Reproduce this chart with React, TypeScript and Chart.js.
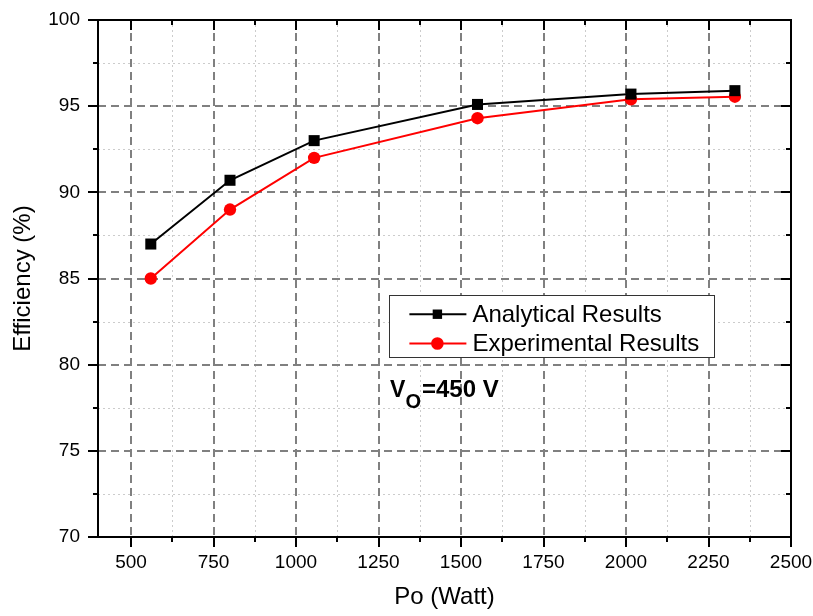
import { useEffect, useRef } from 'react';
import { Chart, registerables } from 'chart.js';

Chart.register(...registerables);

const powerAnalytical = [560, 800, 1055, 1550, 2015, 2330];
const efficiencyAnalytical = [87.0, 90.7, 93.0, 95.1, 95.7, 95.9];
const powerExperimental = [560, 800, 1055, 1550, 2015, 2330];
const efficiencyExperimental = [85.0, 89.0, 92.0, 94.3, 95.4, 95.55];
const seriesLabels = ['Analytical Results', 'Experimental Results'];
const xMajorTicks = [500, 750, 1000, 1250, 1500, 1750, 2000, 2250, 2500];
const xMinorTicks = [625, 875, 1125, 1375, 1625, 1875, 2125, 2375];
const yMajorTicks = [70, 75, 80, 85, 90, 95, 100];
const yMinorTicks = [72.5, 77.5, 82.5, 87.5, 92.5, 97.5];
const xTitle = 'Po (Watt)';
const yTitle = 'Efficiency (%)';
const annotationMain = 'V';
const annotationSub = 'O';
const annotationRest = '=450 V';

const FONT = '"Liberation Sans", Arial, Helvetica, sans-serif';

const decorPlugin = {
  id: 'decor',
  beforeDatasetsDraw(chart: any) {
    const { ctx, chartArea: a, scales } = chart;
    const xs = scales.x;
    const ys = scales.y;
    ctx.save();
    ctx.strokeStyle = '#cccccc';
    ctx.lineWidth = 1;
    ctx.setLineDash([2, 3]);
    ctx.beginPath();
    for (const v of xMinorTicks) {
      const px = Math.round(xs.getPixelForValue(v)) + 0.5;
      ctx.moveTo(px, a.top);
      ctx.lineTo(px, a.bottom);
    }
    for (const v of yMinorTicks) {
      const py = Math.round(ys.getPixelForValue(v)) + 0.5;
      ctx.moveTo(a.left, py);
      ctx.lineTo(a.right, py);
    }
    ctx.stroke();
    ctx.strokeStyle = '#808080';
    ctx.lineWidth = 2;
    ctx.setLineDash([8, 5]);
    ctx.beginPath();
    for (const v of xMajorTicks) {
      const px = Math.round(xs.getPixelForValue(v));
      if (px <= a.left + 2 || px >= a.right - 2) continue;
      ctx.moveTo(px, a.top);
      ctx.lineTo(px, a.bottom);
    }
    for (const v of yMajorTicks) {
      const py = Math.round(ys.getPixelForValue(v));
      if (py <= a.top + 2 || py >= a.bottom - 2) continue;
      ctx.moveTo(a.left, py);
      ctx.lineTo(a.right, py);
    }
    ctx.stroke();
    ctx.restore();
  },
  afterDatasetsDraw(chart: any) {
    const { ctx, chartArea: a, scales } = chart;
    const xs = scales.x;
    const ys = scales.y;
    ctx.save();
    ctx.setLineDash([]);
    ctx.strokeStyle = '#000';
    ctx.lineWidth = 2;
    ctx.strokeRect(a.left, a.top, a.right - a.left, a.bottom - a.top);
    ctx.beginPath();
    const tick = (v: number, len: number) => {
      const px = Math.round(xs.getPixelForValue(v));
      ctx.moveTo(px, a.bottom);
      ctx.lineTo(px, a.bottom + len);
      ctx.moveTo(px, a.top);
      ctx.lineTo(px, a.top + len);
    };
    const ytick = (v: number, len: number) => {
      const py = Math.round(ys.getPixelForValue(v));
      ctx.moveTo(a.left, py);
      ctx.lineTo(a.left - len, py);
      ctx.moveTo(a.right, py);
      ctx.lineTo(a.right - len, py);
    };
    xMajorTicks.forEach((v) => tick(v, 10));
    xMinorTicks.forEach((v) => tick(v, 5));
    yMajorTicks.forEach((v) => ytick(v, 10));
    yMinorTicks.forEach((v) => ytick(v, 5));
    ctx.stroke();

    // legend
    const lx = xs.getPixelForValue(1283);
    const ly = ys.getPixelForValue(84.03);
    const lw = 325;
    const lh = 62;
    ctx.fillStyle = '#ffffff';
    ctx.fillRect(lx, ly, lw, lh);
    ctx.strokeStyle = '#333333';
    ctx.lineWidth = 1;
    ctx.strokeRect(Math.round(lx) + 0.5, Math.round(ly) + 0.5, lw, lh);
    chart.data.datasets.forEach((ds: any, i: number) => {
      const rowY = ly + 19 + i * 29.3;
      ctx.strokeStyle = ds.borderColor;
      ctx.lineWidth = 2;
      ctx.beginPath();
      ctx.moveTo(lx + 20, rowY);
      ctx.lineTo(lx + 77, rowY);
      ctx.stroke();
      ctx.fillStyle = ds.backgroundColor;
      ctx.beginPath();
      if (ds.pointStyle === 'rect') {
        ctx.rect(lx + 48 - 4.7, rowY - 4.7, 9.4, 9.4);
      } else {
        ctx.arc(lx + 48, rowY, 6.3, 0, Math.PI * 2);
      }
      ctx.fill();
      ctx.fillStyle = '#000';
      ctx.font = `24px ${FONT}`;
      ctx.textBaseline = 'middle';
      ctx.textAlign = 'left';
      ctx.fillText(ds.label, lx + 83, rowY + 1);
    });

    // annotation
    const ax = xs.getPixelForValue(1285);
    const ay = ys.getPixelForValue(78.13);
    ctx.fillStyle = '#000';
    ctx.textBaseline = 'alphabetic';
    ctx.font = `bold 23px ${FONT}`;
    ctx.fillText(annotationMain, ax, ay);
    let w = ctx.measureText(annotationMain).width;
    ctx.font = `bold 20px ${FONT}`;
    ctx.fillText(annotationSub, ax + w, ay + 11);
    w += ctx.measureText(annotationSub).width;
    ctx.font = `bold 24px ${FONT}`;
    ctx.fillText(annotationRest, ax + w + 1, ay);
    ctx.restore();
  },
};

const zeroPadding = (s: any) => {
  s.paddingTop = 0;
  s.paddingBottom = 0;
  s.paddingLeft = 0;
  s.paddingRight = 0;
};

export default function App() {
  const ref = useRef<HTMLCanvasElement>(null);
  useEffect(() => {
    document.body.style.margin = '0';
    const canvas = ref.current;
    if (!canvas) return;
    const chart = new Chart(canvas, {
      type: 'scatter',
      data: {
        datasets: [
          {
            label: seriesLabels[0],
            data: powerAnalytical.map((x, i) => ({ x, y: efficiencyAnalytical[i] })),
            showLine: true,
            borderColor: '#000000',
            backgroundColor: '#000000',
            borderWidth: 2,
            pointStyle: 'rect',
            pointRadius: 7.8,
            pointHoverRadius: 7.8,
            pointBorderWidth: 0,
          },
          {
            label: seriesLabels[1],
            data: powerExperimental.map((x, i) => ({ x, y: efficiencyExperimental[i] })),
            showLine: true,
            borderColor: '#ff0000',
            backgroundColor: '#ff0000',
            borderWidth: 2,
            pointStyle: 'circle',
            pointRadius: 6.2,
            pointHoverRadius: 6.2,
            pointBorderWidth: 0,
          },
        ],
      },
      options: {
        animation: false,
        responsive: false,
        devicePixelRatio: 1,
        layout: { padding: { top: 20, right: 22, left: 0, bottom: 0 } },
        plugins: {
          legend: { display: false },
          tooltip: { enabled: false },
        },
        events: [],
        scales: {
          x: {
            type: 'linear',
            min: 400,
            max: 2500,
            grid: { display: false, drawTicks: false },
            border: { display: false },
            afterBuildTicks: (s: any) => {
              s.ticks = xMajorTicks.map((value) => ({ value }));
            },
            afterFit: (s: any) => {
              s.height = 79;
              zeroPadding(s);
            },
            ticks: {
              autoSkip: false,
              maxRotation: 0,
              padding: 14,
              color: '#000',
              font: { size: 19, family: FONT },
              callback: (v: any) => String(v),
            },
            title: {
              display: true,
              text: xTitle,
              color: '#000',
              font: { size: 24, family: FONT },
              padding: { top: 0, bottom: 4 },
            },
          },
          y: {
            type: 'linear',
            min: 70,
            max: 100,
            grid: { display: false, drawTicks: false },
            border: { display: false },
            afterBuildTicks: (s: any) => {
              s.ticks = yMajorTicks.map((value) => ({ value }));
            },
            afterFit: (s: any) => {
              s.width = 98;
              zeroPadding(s);
            },
            ticks: {
              padding: 18,
              color: '#000',
              font: { size: 19, family: FONT },
              callback: (v: any) => String(v),
            },
            title: {
              display: true,
              text: yTitle,
              color: '#000',
              font: { size: 24, family: FONT },
              padding: { top: 9, bottom: 0 },
            },
          },
        },
      },
      plugins: [decorPlugin],
    } as any);
    return () => chart.destroy();
  }, []);
  return <canvas ref={ref} width={813} height={616} style={{ display: 'block' }} />;
}
